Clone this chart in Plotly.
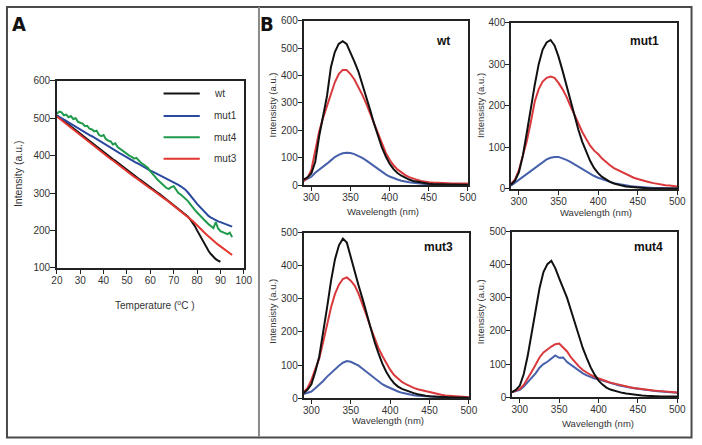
import plotly.graph_objects as go

# ---------------- Panel A data: thermal melt ----------------
temp_wt = list(range(20, 91))
temp_mut = list(range(20, 96))

a_wt = [507, 503, 498, 493, 488, 483, 478, 473, 468, 463, 458, 453, 448, 444, 439, 434, 429, 424, 419, 414,
        410, 405, 400, 395, 390, 386, 381, 376, 371, 367, 362, 357, 352, 348, 343, 338, 334, 329, 324, 320,
        315, 311, 306, 301, 297, 292, 288, 283, 278, 274, 269, 264, 259, 254, 249, 243, 237, 230, 222, 212,
        200, 188, 176, 164, 153, 144, 136, 129, 123, 119, 116]
a_mut1 = [507, 504, 500, 497, 493, 489, 485, 482, 478, 474, 470, 467, 463, 459, 455, 452, 448, 444, 440, 437,
          433, 429, 425, 422, 418, 414, 410, 406, 403, 399, 395, 392, 388, 385, 381, 378, 374, 371, 367, 364,
          360, 357, 354, 351, 348, 345, 342, 339, 336, 333, 330, 326, 322, 318, 314, 309, 302, 295, 287, 279,
          271, 264, 257, 250, 244, 238, 234, 230, 227, 224, 222, 220, 218, 215, 213, 210]
a_mut4 = [512, 518, 516, 508, 510, 503, 506, 498, 500, 491, 488, 486, 479, 480, 472, 470, 465, 467, 456, 452,
          455, 444, 440, 438, 430, 433, 423, 418, 415, 409, 405, 400, 397, 392, 394, 386, 381, 377, 372, 367,
          358, 352, 344, 336, 330, 326, 319, 313, 311, 316, 318, 308, 300, 296, 291, 286, 279, 271, 262, 255,
          248, 241, 234, 228, 222, 216, 211, 206, 222, 205, 198, 195, 193, 190, 194, 182]
a_mut3 = [505, 500, 495, 489, 484, 479, 474, 469, 464, 459, 454, 449, 444, 440, 435, 430, 425, 420, 415, 410,
          406, 401, 396, 391, 387, 382, 377, 372, 368, 363, 358, 354, 349, 344, 340, 335, 330, 326, 321, 317,
          312, 308, 303, 299, 294, 290, 285, 281, 276, 272, 267, 262, 258, 253, 248, 243, 237, 232, 226, 220,
          213, 207, 201, 195, 189, 183, 177, 172, 167, 162, 157, 152, 148, 144, 139, 134]

# ---------------- Panel B data: emission spectra ----------------
wavelength = list(range(290, 501, 5))

wt_black = [20, 28, 42, 85, 178, 255, 325, 430, 485, 515, 525, 515, 485, 450, 415, 370, 318, 275, 225, 180,
            138, 105, 78, 58, 44, 34, 26, 20, 15, 12, 9, 7, 5, 4, 3, 3, 2, 2, 2, 1, 1, 1, 1]
wt_red = [15, 25, 55, 120, 195, 245, 290, 335, 375, 405, 420, 420, 405, 385, 360, 330, 298, 262, 225, 185,
          150, 118, 92, 72, 57, 45, 36, 29, 23, 19, 15, 12, 10, 9, 8, 7, 7, 6, 6, 6, 6, 6, 6]
wt_blue = [15, 22, 30, 45, 55, 65, 78, 90, 102, 110, 116, 118, 117, 113, 107, 99, 90, 80, 68, 57,
           47, 39, 31, 25, 20, 16, 12, 10, 8, 6, 5, 4, 3, 2, 2, 1, 1, 1, 1, 0, 0, 0, 0]

mut1_black = [10, 20, 40, 80, 135, 195, 250, 300, 335, 352, 358, 345, 318, 285, 250, 212, 175, 143, 113, 88,
              67, 50, 38, 29, 22, 17, 13, 10, 8, 6, 5, 4, 3, 2, 2, 1, 1, 1, 1, 1, 1, 1, 1]
mut1_red = [12, 22, 45, 78, 115, 160, 210, 240, 258, 267, 270, 267, 255, 240, 222, 200, 178, 157, 137, 120,
            104, 92, 84, 73, 64, 57, 50, 45, 40, 35, 31, 27, 24, 21, 18, 16, 14, 12, 11, 9, 8, 7, 6]
mut1_blue = [8, 15, 22, 30, 38, 43, 50, 58, 65, 71, 75, 77, 77, 74, 70, 65, 59, 53, 47, 41,
             36, 31, 27, 23, 20, 17, 14, 12, 10, 8, 7, 6, 5, 4, 3, 3, 2, 2, 2, 1, 1, 1, 1]

mut3_black = [15, 25, 42, 80, 126, 195, 275, 355, 420, 462, 482, 470, 425, 380, 340, 300, 255, 212, 172, 137,
              105, 80, 60, 45, 35, 28, 23, 19, 15, 12, 9, 7, 6, 5, 4, 3, 3, 2, 2, 2, 1, 1, 1]
mut3_red = [18, 30, 55, 85, 120, 170, 225, 275, 315, 343, 360, 365, 355, 340, 315, 285, 250, 215, 182, 152,
            128, 105, 86, 70, 58, 49, 42, 36, 31, 27, 24, 20, 17, 14, 12, 10, 8, 7, 6, 5, 4, 4, 3]
mut3_blue = [12, 15, 20, 30, 40, 52, 65, 77, 88, 98, 107, 112, 110, 104, 98, 89, 80, 70, 60, 51,
             42, 36, 30, 25, 20, 16, 13, 11, 9, 7, 6, 5, 4, 3, 2, 2, 1, 1, 1, 1, 1, 1, 1]

mut4_black = [15, 22, 35, 70, 125, 190, 260, 329, 378, 402, 412, 390, 359, 330, 300, 262, 222, 182, 148, 118,
              90, 68, 50, 38, 29, 23, 19, 16, 13, 11, 9, 7, 6, 5, 4, 3, 3, 2, 2, 2, 2, 2, 2]
mut4_red = [15, 20, 25, 37, 55, 77, 98, 120, 135, 145, 153, 160, 162, 150, 138, 120, 106, 93, 82, 74,
            67, 61, 56, 52, 48, 44, 41, 37, 34, 32, 30, 28, 26, 25, 23, 21, 20, 19, 18, 17, 16, 15, 14]
mut4_blue = [15, 18, 22, 32, 45, 58, 72, 89, 100, 107, 116, 126, 119, 120, 106, 97, 88, 80, 72, 66,
             60, 56, 54, 51, 47, 43, 40, 36, 33, 31, 29, 27, 25, 24, 22, 20, 19, 18, 17, 16, 15, 14, 13]

legend_names = ["wt", "mut1", "mut4", "mut3"]
panel_titles = ["wt", "mut1", "mut3", "mut4"]

W, H = 702, 445


def fx(px):
    return px / W


def fy(py):
    return 1 - py / H


C_BLACK = "#111111"
C_BLUE_A = "#2b4a9e"
C_GREEN = "#1f9a4a"
C_RED_A = "#e2362f"
C_RED = "#d9383c"
C_BLUE = "#4660ab"

fig = go.Figure()

# Panel A traces
for name, xs, ys, col in [("wt", temp_wt, a_wt, C_BLACK), ("mut1", temp_mut, a_mut1, C_BLUE_A),
                          ("mut4", temp_mut, a_mut4, C_GREEN), ("mut3", temp_mut, a_mut3, C_RED_A)]:
    fig.add_trace(go.Scatter(x=xs, y=ys, mode="lines", name=name, line=dict(color=col, width=2),
                             xaxis="x", yaxis="y", showlegend=False))

# Panel B traces
spectra = [
    ("x2", "y2", wt_black, wt_red, wt_blue),
    ("x3", "y3", mut1_black, mut1_red, mut1_blue),
    ("x4", "y4", mut3_black, mut3_red, mut3_blue),
    ("x5", "y5", mut4_black, mut4_red, mut4_blue),
]
for xa, ya, blk, red, blu in spectra:
    for ys, col in [(blu, C_BLUE), (red, C_RED), (blk, C_BLACK)]:
        fig.add_trace(go.Scatter(x=wavelength, y=ys, mode="lines", line=dict(color=col, width=2),
                                 xaxis=xa, yaxis=ya, showlegend=False))

axis_common = dict(showline=True, mirror=True, linecolor="#222222", linewidth=1.5, ticks="outside",
                   tickwidth=1, tickcolor="#222222", showgrid=False, zeroline=False,
                   ticklabelstandoff=-2,
                   tickfont=dict(family="Liberation Sans, Arial", size=10, color="#333333"), fixedrange=True)

# domains (pixels)
dom = {
    "A": ((52, 243), (77, 269)),
    "wt": ((304, 472), (15, 184)),
    "mut1": ((516, 686), (17, 188)),
    "mut3": ((304, 473), (233, 403)),
    "mut4": ((517, 686), (232, 402)),
}


def xd(k):
    return [fx(dom[k][0][0]), fx(dom[k][0][1])]


def yd(k):
    return [fy(dom[k][1][1]), fy(dom[k][1][0])]


fig.update_layout(
    width=W, height=H, margin=dict(l=0, r=0, t=0, b=0, pad=0),
    paper_bgcolor="white", plot_bgcolor="white",
    font=dict(family="Liberation Sans, Arial", color="#333333"),
    xaxis=dict(domain=xd("A"), range=[20, 100], dtick=10, tick0=0, anchor="y", ticklen=5, **axis_common),
    yaxis=dict(domain=yd("A"), range=[100, 600], dtick=100, tick0=0, anchor="x", ticklen=5, **axis_common),
    xaxis2=dict(domain=xd("wt"), range=[290, 500], dtick=50, tick0=0, anchor="y2", ticklen=4, **axis_common),
    yaxis2=dict(domain=yd("wt"), range=[0, 600], dtick=100, tick0=0, anchor="x2", ticklen=4, **axis_common),
    xaxis3=dict(domain=xd("mut1"), range=[290, 500], dtick=50, tick0=0, anchor="y3", ticklen=4, **axis_common),
    yaxis3=dict(domain=yd("mut1"), range=[0, 400], dtick=100, tick0=0, anchor="x3", ticklen=4, **axis_common),
    xaxis4=dict(domain=xd("mut3"), range=[290, 500], dtick=50, tick0=0, anchor="y4", ticklen=4, **axis_common),
    yaxis4=dict(domain=yd("mut3"), range=[0, 500], dtick=100, tick0=0, anchor="x4", ticklen=4, **axis_common),
    xaxis5=dict(domain=xd("mut4"), range=[290, 500], dtick=50, tick0=0, anchor="y5", ticklen=4, **axis_common),
    yaxis5=dict(domain=yd("mut4"), range=[0, 500], dtick=100, tick0=0, anchor="x5", ticklen=4, **axis_common),
)

shapes = []
# outer frame and divider
shapes.append(dict(type="rect", xref="paper", yref="paper", x0=fx(1), x1=fx(700.5), y0=fy(443.5), y1=fy(1),
                   line=dict(color="#4a4a4a", width=2), fillcolor="rgba(0,0,0,0)", layer="above"))
shapes.append(dict(type="line", xref="paper", yref="paper", x0=fx(258.5), x1=fx(258.5), y0=fy(443), y1=fy(1),
                   line=dict(color="#8a8a8a", width=2)))

annotations = []
# manual legend for panel A
leg_cols = [C_BLACK, C_BLUE_A, C_GREEN, C_RED_A]
leg_y = [90, 113, 135, 157]
for name, col, py in zip(legend_names, leg_cols, leg_y):
    shapes.append(dict(type="line", xref="paper", yref="paper", x0=fx(161), x1=fx(198), y0=fy(py), y1=fy(py),
                       line=dict(color=col, width=2)))
    annotations.append(dict(text=name, xref="paper", yref="paper", x=fx(210), y=fy(py), xanchor="left",
                            yanchor="middle", showarrow=False, font=dict(size=10, color="#333333")))

# panel letters
for letter, px, py in [("A", 13, 18), ("B", 267, 18)]:
    annotations.append(dict(text="<b>%s</b>" % letter, xref="paper", yref="paper", x=fx(px), y=fy(py),
                            xanchor="center", yanchor="middle", showarrow=False,
                            font=dict(size=20, family="Liberation Sans Narrow, DejaVu Sans Condensed", color="#111111")))

# panel titles
for t, px, py in zip(panel_titles, [447, 652, 442, 657], [36, 36, 248, 248]):
    annotations.append(dict(text="<b>%s</b>" % t, xref="paper", yref="paper", x=fx(px), y=fy(py),
                            xanchor="center", yanchor="middle", showarrow=False,
                            font=dict(size=12, color="#111111")))

# axis titles
annotations.append(dict(text="Intensity (a.u.)", xref="paper", yref="paper", x=fx(13), y=fy(172),
                        textangle=-90, xanchor="center", yanchor="middle", showarrow=False,
                        font=dict(size=10.5, color="#333333")))
annotations.append(dict(text="Temperature (<sup>o</sup>C )", xref="paper", yref="paper", x=fx(152), y=fy(307),
                        xanchor="center", yanchor="middle", showarrow=False, font=dict(size=10, color="#333333")))
for px, py in [(272, 102), (485, 102), (272, 314), (485, 314)]:
    annotations.append(dict(text="Intensisty (a.u.)", xref="paper", yref="paper", x=fx(px), y=fy(py),
                            textangle=-90, xanchor="center", yanchor="middle", showarrow=False,
                            font=dict(size=9.5, color="#333333")))
for px, py in [(385, 211), (603, 212), (390, 426), (605, 429)]:
    annotations.append(dict(text="Wavelength (nm)", xref="paper", yref="paper", x=fx(px), y=fy(py),
                            xanchor="center", yanchor="middle", showarrow=False,
                            font=dict(size=9.5, color="#333333")))

fig.update_layout(shapes=shapes, annotations=annotations)

fig.write_html("out.html", config={"displayModeBar": False},
               post_script="document.body.style.margin='0';document.body.style.padding='0';"
                           "document.body.style.overflow='hidden';")
